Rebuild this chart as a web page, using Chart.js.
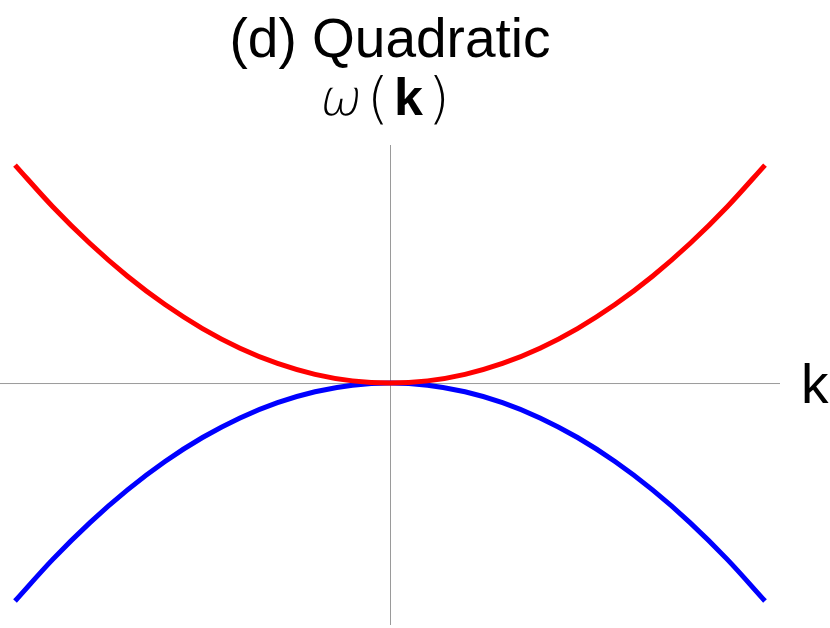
<!DOCTYPE html>
<html>
<head>
<meta charset="utf-8">
<script src="https://cdn.jsdelivr.net/npm/chart.js@4"></script>
<style>
  html, body { margin: 0; padding: 0; background: #fff; }
  #wrap { width: 830px; height: 628px; }
</style>
</head>
<body>
<div id="wrap"><canvas id="chart"></canvas></div>
<script>
// wave number k and the two branches of omega(k)
const kValues = [-1.0, -0.9, -0.8, -0.7, -0.6, -0.5, -0.4, -0.3, -0.2, -0.1, 0.0,
  0.1, 0.2, 0.3, 0.4, 0.5, 0.6, 0.7, 0.8, 0.9, 1.0];
const upperBranch = [1.0, 0.81, 0.64, 0.49, 0.36, 0.25, 0.16, 0.09, 0.04, 0.01, 0.0,
  0.01, 0.04, 0.09, 0.16, 0.25, 0.36, 0.49, 0.64, 0.81, 1.0];
const lowerBranch = [-1.0, -0.81, -0.64, -0.49, -0.36, -0.25, -0.16, -0.09, -0.04, -0.01, 0.0,
  -0.01, -0.04, -0.09, -0.16, -0.25, -0.36, -0.49, -0.64, -0.81, -1.0];

const titleText = "(d) Quadratic";
const xLabel = "k";

function toPoints(ys) {
  return kValues.map((k, i) => ({ x: k, y: ys[i] }));
}

// axes through the origin plus the labels
const axesAndLabels = {
  id: "axesAndLabels",
  beforeDatasetsDraw(chart) {
    const { ctx, chartArea, scales } = chart;
    const x0 = scales.x.getPixelForValue(0);
    const y0 = scales.y.getPixelForValue(0);
    ctx.save();
    ctx.strokeStyle = "#9a9a9a";
    ctx.lineWidth = 1;
    ctx.beginPath();
    ctx.moveTo(chartArea.left, y0 + 0.5);
    ctx.lineTo(chartArea.right, y0 + 0.5);
    ctx.moveTo(x0 + 0.5, chartArea.top);
    ctx.lineTo(x0 + 0.5, chartArea.bottom);
    ctx.stroke();
    ctx.restore();
  },
  afterDraw(chart) {
    const { ctx, chartArea, scales } = chart;
    const x0 = scales.x.getPixelForValue(0);
    const y0 = scales.y.getPixelForValue(0);
    ctx.save();
    ctx.fillStyle = "#000";
    ctx.textBaseline = "alphabetic";

    // title
    ctx.textAlign = "center";
    ctx.font = "55px 'Liberation Sans', Arial, sans-serif";
    ctx.fillText(titleText, x0, 57);

    // omega ( k ) above the vertical axis; thin omega slanted by hand
    ctx.textAlign = "left";
    ctx.save();
    ctx.translate(x0 - 72, 115);
    ctx.transform(1, 0, -0.18, 1, 0, 0);
    ctx.font = "200 50px 'DejaVu Sans', sans-serif";
    ctx.fillText("\u03c9", 0, 0);
    ctx.restore();

    ctx.font = "200 56px 'DejaVu Sans', sans-serif";
    ctx.fillText("(", x0 - 23, 117);
    ctx.fillText(")", x0 + 38, 117);
    ctx.font = "bold 52px 'Liberation Sans', sans-serif";
    ctx.fillText("k", x0 + 4, 115);

    // k at the end of the horizontal axis
    ctx.font = "55px 'Liberation Sans', Arial, sans-serif";
    ctx.fillText(xLabel, chartArea.right + 21, y0 + 20);
    ctx.restore();
  },
};

new Chart(document.getElementById("chart"), {
  type: "scatter",
  data: {
    datasets: [
      {
        label: "upper",
        data: toPoints(upperBranch),
        showLine: true,
        borderColor: "#ff0000",
        borderWidth: 5,
        pointRadius: 0,
        tension: 0.4,
        cubicInterpolationMode: "monotone",
      },
      {
        label: "lower",
        data: toPoints(lowerBranch),
        showLine: true,
        borderColor: "#0000ff",
        borderWidth: 5,
        pointRadius: 0,
        tension: 0.4,
        cubicInterpolationMode: "monotone",
      },
    ],
  },
  options: {
    responsive: true,
    maintainAspectRatio: false,
    animation: false,
    layout: { padding: { left: 0, right: 50, top: 145, bottom: 3 } },
    plugins: {
      legend: { display: false },
      tooltip: { enabled: false },
      title: { display: false },
    },
    scales: {
      x: { type: "linear", min: -1.04, max: 1.04, display: false },
      y: { type: "linear", min: -1.11, max: 1.092, display: false },
    },
  },
  plugins: [axesAndLabels],
});
</script>
</body>
</html>
